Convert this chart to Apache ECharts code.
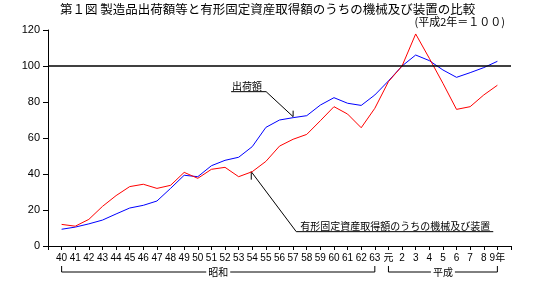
<!DOCTYPE html>
<html><head><meta charset="utf-8">
<script src="https://cdn.jsdelivr.net/npm/echarts@6/dist/echarts.min.js"></script>
<style>html,body{margin:0;padding:0;background:#fff}#c{width:540px;height:288px}</style>
</head><body><div id="c"></div>
<script>
const titleText = '第１図 製造品出荷額等と有形固定資産取得額のうちの機械及び装置の比較';
const subtitleText = '(平成2年＝１００)';
const yearLabels = ['40','41','42','43','44','45','46','47','48','49','50','51','52','53','54','55','56','57','58','59','60','61','62','63','元','2','3','4','5','6','7','8','9年'];
const shipmentsName = '出荷額';
const shipments = [9.3,10.5,12.3,14.4,17.8,21.1,22.6,25.0,32.0,39.3,38.5,44.6,47.6,49.3,55.2,65.9,70.0,71.3,72.4,78.3,82.4,79.3,78.1,83.9,91.7,100,106.1,103.0,97.8,93.7,96.3,99.1,102.6];
const machineryName = '有形固定資産取得額のうちの機械及び装置';
const machinery = [12.0,11.0,14.8,22.0,28.0,33.0,34.3,32.0,33.7,40.9,37.6,42.6,43.7,38.5,41.3,47.0,55.5,59.3,62.0,69.6,77.4,73.3,65.7,76.5,91.3,100,117.8,104.3,90.4,75.9,77.4,83.9,89.3];
const eraShowa = '昭和';
const eraHeisei = '平成';
const yMin = 0, yMax = 120, yStep = 20;
const refLine = 100;

const cats = [''].concat(yearLabels, ['']);
const pad = a => [null].concat(a, [null]);
const chart = echarts.init(document.getElementById('c'), null, {renderer: 'canvas'});
const numFont = "'Liberation Sans', 'Noto Sans CJK JP', sans-serif";
const jpFont = "'Noto Sans CJK JP', sans-serif";
chart.setOption({
  animation: false,
  backgroundColor: '#fff',
  title: [
    {text: titleText, left: 55, top: -2, textStyle: {fontSize: 12.5, fontWeight: 'normal', color: '#000', fontFamily: jpFont}},
    {text: subtitleText, right: 30, top: 11, textStyle: {fontSize: 11, fontWeight: 'normal', color: '#000', fontFamily: jpFont}}
  ],
  grid: {left: 48, right: 29, top: 30, bottom: 42, containLabel: false},
  xAxis: {
    type: 'category', data: cats, boundaryGap: false,
    axisLine: {lineStyle: {color: '#000', width: 1}},
    axisTick: {interval: 0, length: 4, lineStyle: {color: '#000'}},
    axisLabel: {interval: 0, margin: 7, color: '#000', fontSize: 10, fontFamily: numFont},
    splitLine: {show: false}
  },
  yAxis: {
    type: 'value', min: yMin, max: yMax, interval: yStep,
    axisLine: {show: true, lineStyle: {color: '#000', width: 1}},
    axisTick: {show: true, length: 5, lineStyle: {color: '#000'}},
    axisLabel: {margin: 8, color: '#000', fontSize: 11, fontFamily: numFont},
    splitLine: {show: false}
  },
  series: [
    {name: shipmentsName, type: 'line', data: pad(shipments), symbol: 'none', lineStyle: {color: '#0000ff', width: 1}, itemStyle: {color: '#0000ff'},
     markLine: {silent: true, symbol: ['none','none'], label: {show: false}, lineStyle: {color: '#000', width: 1.5, type: 'solid'}, data: [{yAxis: refLine}]}},
    {name: machineryName, type: 'line', data: pad(machinery), symbol: 'none', lineStyle: {color: '#ff0000', width: 1}, itemStyle: {color: '#ff0000'}}
  ]
});

const px = (i, v) => chart.convertToPixel({gridIndex: 0}, [i + 1, v]);
const A = px(17, shipments[17]);
const B = px(14, machinery[14]);
const axisY = px(0, 0)[1];
const line = (pts) => ({type: 'polyline', silent: true, shape: {points: pts}, style: {stroke: '#000', lineWidth: 1, fill: null}});
const txt = (x, y, t, align) => ({type: 'text', silent: true, x: x, y: y, style: {text: t, fill: '#000', font: '10px ' + jpFont, textAlign: align, textVerticalAlign: 'middle'}});
function bracket(i0, i1, label) {
  const x0 = px(i0, 0)[0], x1 = px(i1, 0)[0];
  const yT = axisY + 20, yB = axisY + 26;
  const cx = (x0 + x1) / 2;
  return [
    line([[x0, yT], [x0, yB], [cx - 12, yB]]),
    line([[cx + 12, yB], [x1, yB], [x1, yT]]),
    txt(cx, yB, label, 'center')
  ];
}
const g = [
  line([[A[0], A[1] - 7], [A[0], A[1] - 1], [A[0] - 27, A[1] - 26], [A[0] - 62, A[1] - 26]]),
  txt(A[0] - 61, A[1] - 31.5, shipmentsName, 'left'),
  line([[B[0] - 1, B[1] + 8], [B[0] - 1, B[1]], [B[0] + 44, B[1] + 60], [B[0] + 241, B[1] + 60]]),
  txt(B[0] + 48, B[1] + 54.5, machineryName, 'left')
].concat(bracket(0, 23, eraShowa), bracket(24, 32, eraHeisei));
chart.setOption({graphic: g});
</script>
</body></html>
